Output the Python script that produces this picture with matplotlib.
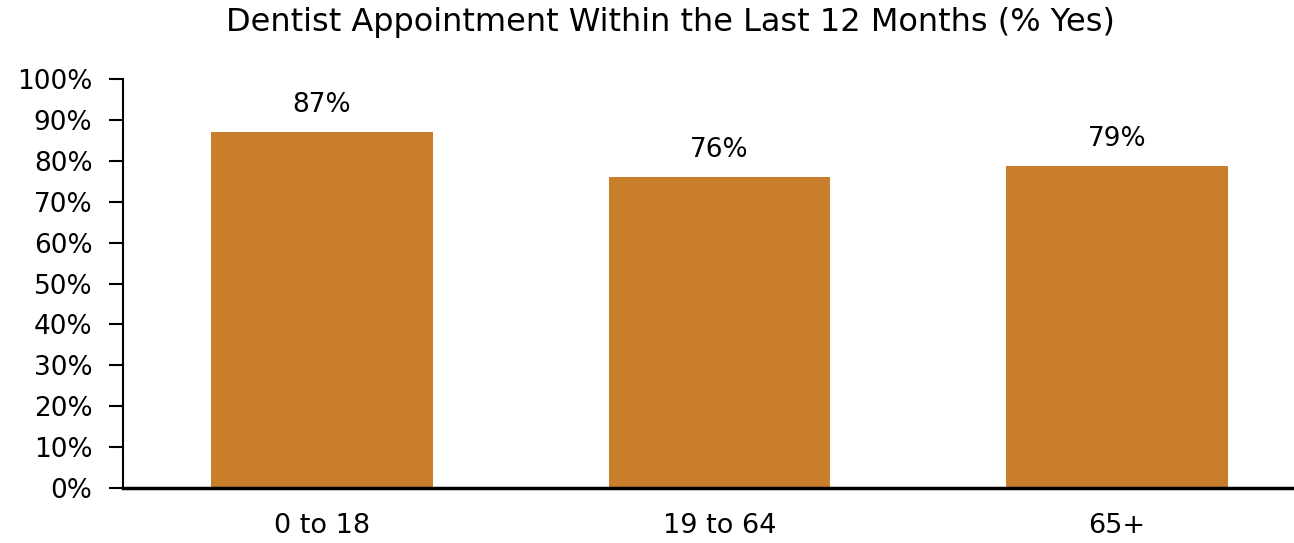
import matplotlib
matplotlib.use("Agg")
import matplotlib.pyplot as plt
from matplotlib.ticker import PercentFormatter

categories = ["0 to 18", "19 to 64", "65+"]
values = [87.1, 76.0, 78.7]
value_labels = ["87%", "76%", "79%"]
title = "Dentist Appointment Within the Last 12 Months (% Yes)"

plt.rcParams['font.family'] = ['DejaVu Sans']

fig = plt.figure(figsize=(12.94, 5.43), dpi=100)
ax = fig.add_axes([123/1294, 55/543, (1316-123)/1294, (488-79)/543])

x = range(len(categories))
bars = ax.bar(x, values, width=0.558, color="#C97E2C")
for xi, v, lab in zip(x, values, value_labels):
    ax.text(xi, v + 3.4, lab, ha="center", va="bottom", fontsize=19, color="black")

ax.set_xlim(-0.5, 2.5)
ax.set_ylim(0, 100)
ax.set_yticks(range(0, 101, 10))
ax.yaxis.set_major_formatter(PercentFormatter(decimals=0))
ax.set_xticks(list(x))
ax.set_xticklabels(categories)
ax.tick_params(axis="y", labelsize=19, length=10, width=1.5, direction="out", pad=12)
ax.tick_params(axis="x", labelsize=19.5, length=0, pad=18)
for s in ["top", "right"]:
    ax.spines[s].set_visible(False)
ax.spines["left"].set_linewidth(1.5)
ax.spines["bottom"].set_linewidth(2.5)

fig.text((224 + 1117) / 2 / 1294, 1 - 23/543, title, ha="center", va="center", fontsize=23)

fig.savefig("out.png", dpi=100)
